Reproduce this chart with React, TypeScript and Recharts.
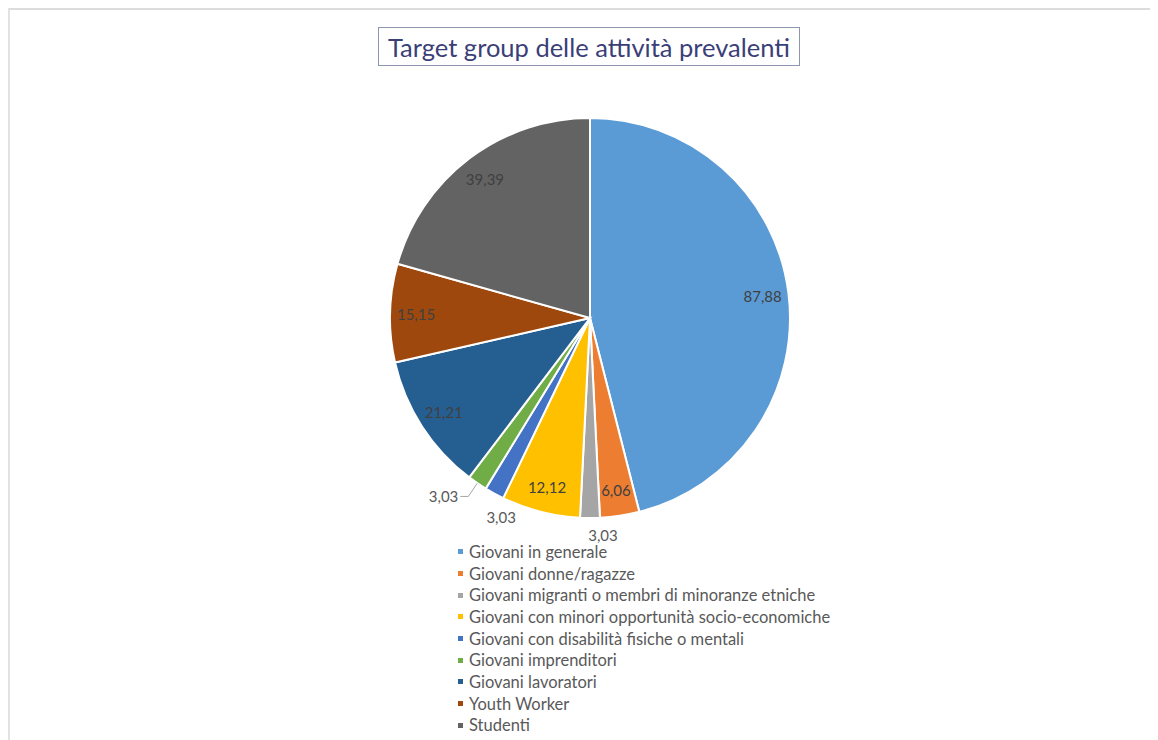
import React from "react";
import { PieChart, Pie, Cell, Legend } from "recharts";

const categories = [
  "Giovani in generale",
  "Giovani donne/ragazze",
  "Giovani migranti o membri di minoranze etniche",
  "Giovani con minori opportunità socio-economiche",
  "Giovani con disabilità fisiche o mentali",
  "Giovani imprenditori",
  "Giovani lavoratori",
  "Youth Worker",
  "Studenti",
];
const values = [87.88, 6.06, 3.03, 12.12, 3.03, 3.03, 21.21, 15.15, 39.39];
const labels = ["87,88", "6,06", "3,03", "12,12", "3,03", "3,03", "21,21", "15,15", "39,39"];
const colors = ["#5B9BD5", "#ED7D31", "#A5A5A5", "#FFC000", "#4472C4", "#70AD47", "#255E91", "#9E480E", "#636363"];
const title = "Target group delle attività prevalenti";

const data = categories.map((name, i) => ({ name, value: values[i], label: labels[i] }));

const FONT = "Lato, 'Open Sans', sans-serif";
const RAD = Math.PI / 180;

const renderLabel = (p: any) => {
  const { cx, cy, midAngle, outerRadius, index } = p;
  const cos = Math.cos(-midAngle * RAD);
  const sin = Math.sin(-midAngle * RAD);
  const text = labels[index];
  if (index === 2 || index === 4) {
    const r = outerRadius + 17;
    const x = cx + r * cos + (index === 2 ? 13 : 15);
    const y = cy + r * sin + (index === 4 ? 8 : 0);
    return (
      <text x={x} y={y} fill="#595959" fontSize={15} fontFamily={FONT} textAnchor="middle" dominantBaseline="central">
        {text}
      </text>
    );
  }
  if (index === 5) {
    const x0 = cx + outerRadius * cos;
    const y0 = cy + outerRadius * sin;
    const x1 = cx + (outerRadius + 16) * cos;
    const y1 = cy + (outerRadius + 16) * sin;
    const x2 = x1 - 8;
    return (
      <g>
        <polyline points={`${x0},${y0} ${x1},${y1} ${x2},${y1}`} fill="none" stroke="#A6A6A6" strokeWidth={1} />
        <text x={x2 - 2} y={y1} fill="#595959" fontSize={15} fontFamily={FONT} textAnchor="end" dominantBaseline="central">
          {text}
        </text>
      </g>
    );
  }
  const r = outerRadius - 26;
  const x = cx + r * cos;
  const y = cy + r * sin;
  return (
    <text x={x} y={y} fill="#404040" fontSize={15} fontFamily={FONT} textAnchor="middle" dominantBaseline="central">
      {text}
    </text>
  );
};

const renderLegend = () => (
  <div style={{ fontFamily: FONT, fontSize: 16.5, color: "#595959" }}>
    {categories.map((c, i) => (
      <div key={c} style={{ display: "flex", alignItems: "center", height: 21.7, whiteSpace: "nowrap" }}>
        <span style={{ display: "inline-block", width: 5, height: 5, background: colors[i], marginRight: 6 }} />
        <span>{c}</span>
      </div>
    ))}
  </div>
);

export default function App() {
  return (
    <div style={{ position: "relative", width: 1150, height: 732, background: "#fff" }}>
      <div style={{ position: "absolute", left: 0, top: 0, width: 1150, height: 2, background: "#dcdcdc" }} />
      <div style={{ position: "absolute", left: 0, top: 0, width: 2, height: 732, background: "#e2e2e2" }} />
      <div
        style={{
          position: "absolute",
          left: 370,
          top: 19,
          width: 422,
          height: 39,
          boxSizing: "border-box",
          border: "1px solid #8d96b0",
          display: "flex",
          alignItems: "center",
          justifyContent: "center",
          fontFamily: FONT,
          fontSize: 25.5,
          color: "#3b3f78",
          whiteSpace: "nowrap",
          zIndex: 2,
        }}
      >
        {title}
      </div>
      <PieChart
        width={1150}
        height={732}
        margin={{ top: 0, right: 0, bottom: 0, left: 0 }}
        style={{ position: "absolute", left: 0, top: 0 }}
      >
        <Pie
          data={data}
          dataKey="value"
          nameKey="name"
          cx={582}
          cy={310}
          outerRadius={200}
          startAngle={90}
          endAngle={-270}
          stroke="#ffffff"
          strokeWidth={2}
          label={renderLabel}
          labelLine={false}
          isAnimationActive={false}
        >
          {data.map((d, i) => (
            <Cell key={d.name} fill={colors[i]} />
          ))}
        </Pie>
        <Legend
          layout="horizontal"
          verticalAlign="bottom"
          align="left"
          content={renderLegend}
          wrapperStyle={{ position: "absolute", left: 450, top: 533, bottom: "auto", width: 420 }}
        />
      </PieChart>
    </div>
  );
}
